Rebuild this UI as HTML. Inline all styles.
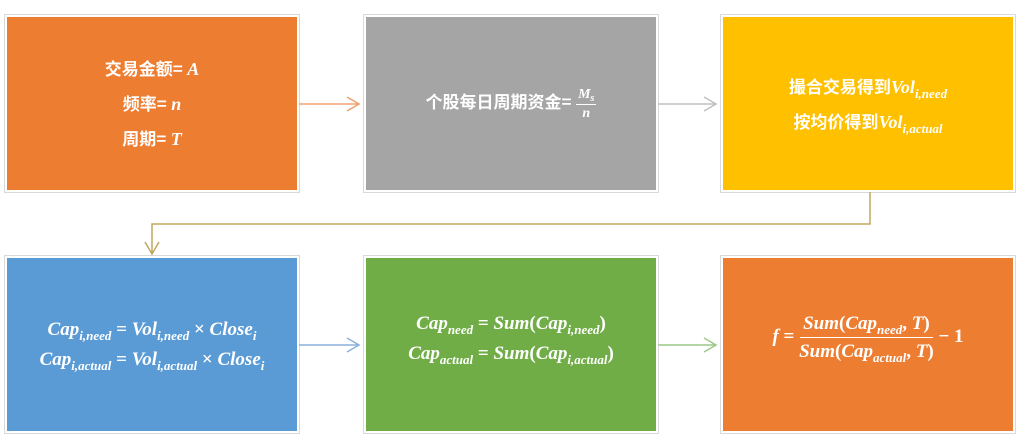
<!DOCTYPE html>
<html><head><meta charset="utf-8"><style>
body{margin:0;width:1017px;height:438px;background:#fff;position:relative;overflow:hidden;font-family:"Liberation Serif","Noto Sans CJK SC",serif;color:#fff}
.b{position:absolute;width:290px;height:173px;box-shadow:0 0 0 2px #fff,0 0 0 3px #d9d9d9;display:flex;flex-direction:column;justify-content:center;align-items:center;font-weight:bold;font-size:18px;text-align:center}
.cn{font-family:"Noto Sans CJK SC",sans-serif;font-weight:bold;font-size:17px}
i{font-family:"Liberation Serif",serif;font-style:italic;font-weight:bold}
sub{font-size:13px;vertical-align:-5px;line-height:0}
.l{line-height:34px;white-space:nowrap}
.m{line-height:30px;white-space:nowrap;font-size:19px}
.fr{display:inline-flex;flex-direction:column;vertical-align:middle;align-items:center}
.fr span{display:block}
</style></head><body>
<div class="b" style="left:7px;top:17px;background:#ED7D31">
<div class="l"><span class="cn">交易金额=</span> <i>A</i></div>
<div class="l"><span class="cn">频率=</span> <i>n</i></div>
<div class="l"><span class="cn">周期=</span> <i>T</i></div>
</div>
<div class="b" style="left:366px;top:17px;background:#A5A5A5">
<div class="l"><span class="cn">个股每日周期资金=</span> <span class="fr" style="font-size:14px;line-height:18px"><span style="border-bottom:1px solid #fff;padding:0 2px"><i>M<sub style="font-size:10px;vertical-align:-3px">s</sub></i></span><span><i>n</i></span></span></div>
</div>
<div class="b" style="left:723px;top:17px;background:#FFC000">
<div class="l"><span class="cn">撮合交易得到</span><i>Vol<sub>i,need</sub></i></div>
<div class="l"><span class="cn">按均价得到</span><i>Vol<sub>i,actual</sub></i></div>
</div>
<div class="b" style="left:7px;top:258px;background:#5B9BD5">
<div class="m"><i>Cap<sub>i,need</sub></i> = <i>Vol<sub>i,need</sub></i> × <i>Close<sub>i</sub></i></div>
<div class="m"><i>Cap<sub>i,actual</sub></i> = <i>Vol<sub>i,actual</sub></i> × <i>Close<sub>i</sub></i></div>
</div>
<div class="b" style="left:366px;top:258px;background:#70AD47">
<div class="m" style="margin-top:-12px"><i>Cap<sub>need</sub></i> = <i>Sum</i>(<i>Cap<sub>i,need</sub></i>)</div>
<div class="m"><i>Cap<sub>actual</sub></i> = <i>Sum</i>(<i>Cap<sub>i,actual</sub></i>)</div>
</div>
<div class="b" style="left:723px;top:258px;background:#ED7D31">
<div class="m" style="margin-top:-14px"><i>f</i> = <span class="fr"><span style="border-bottom:1px solid #fff;padding:0 3px;line-height:27px"><i>Sum</i>(<i>Cap<sub>need</sub></i>, <i>T</i>)</span><span style="line-height:27px"><i>Sum</i>(<i>Cap<sub>actual</sub></i>, <i>T</i>)</span></span> − 1</div>
</div>
<svg style="position:absolute;left:0;top:0" width="1017" height="438">
<g fill="none" stroke-width="1.5">
<path d="M299 104H359M347 97l12 7-12 7" stroke="#F0A070"/>
<path d="M658 104H716M704 97l12 7-12 7" stroke="#c0c0c0"/>
<path d="M870 192V224H152V254M145 242l7 12 7-12" stroke="#C0A860"/>
<path d="M299 345H359M347 338l12 7-12 7" stroke="#8CB0DC"/>
<path d="M658 345H716M704 338l12 7-12 7" stroke="#9CC888"/>
</g></svg>
</body></html>
